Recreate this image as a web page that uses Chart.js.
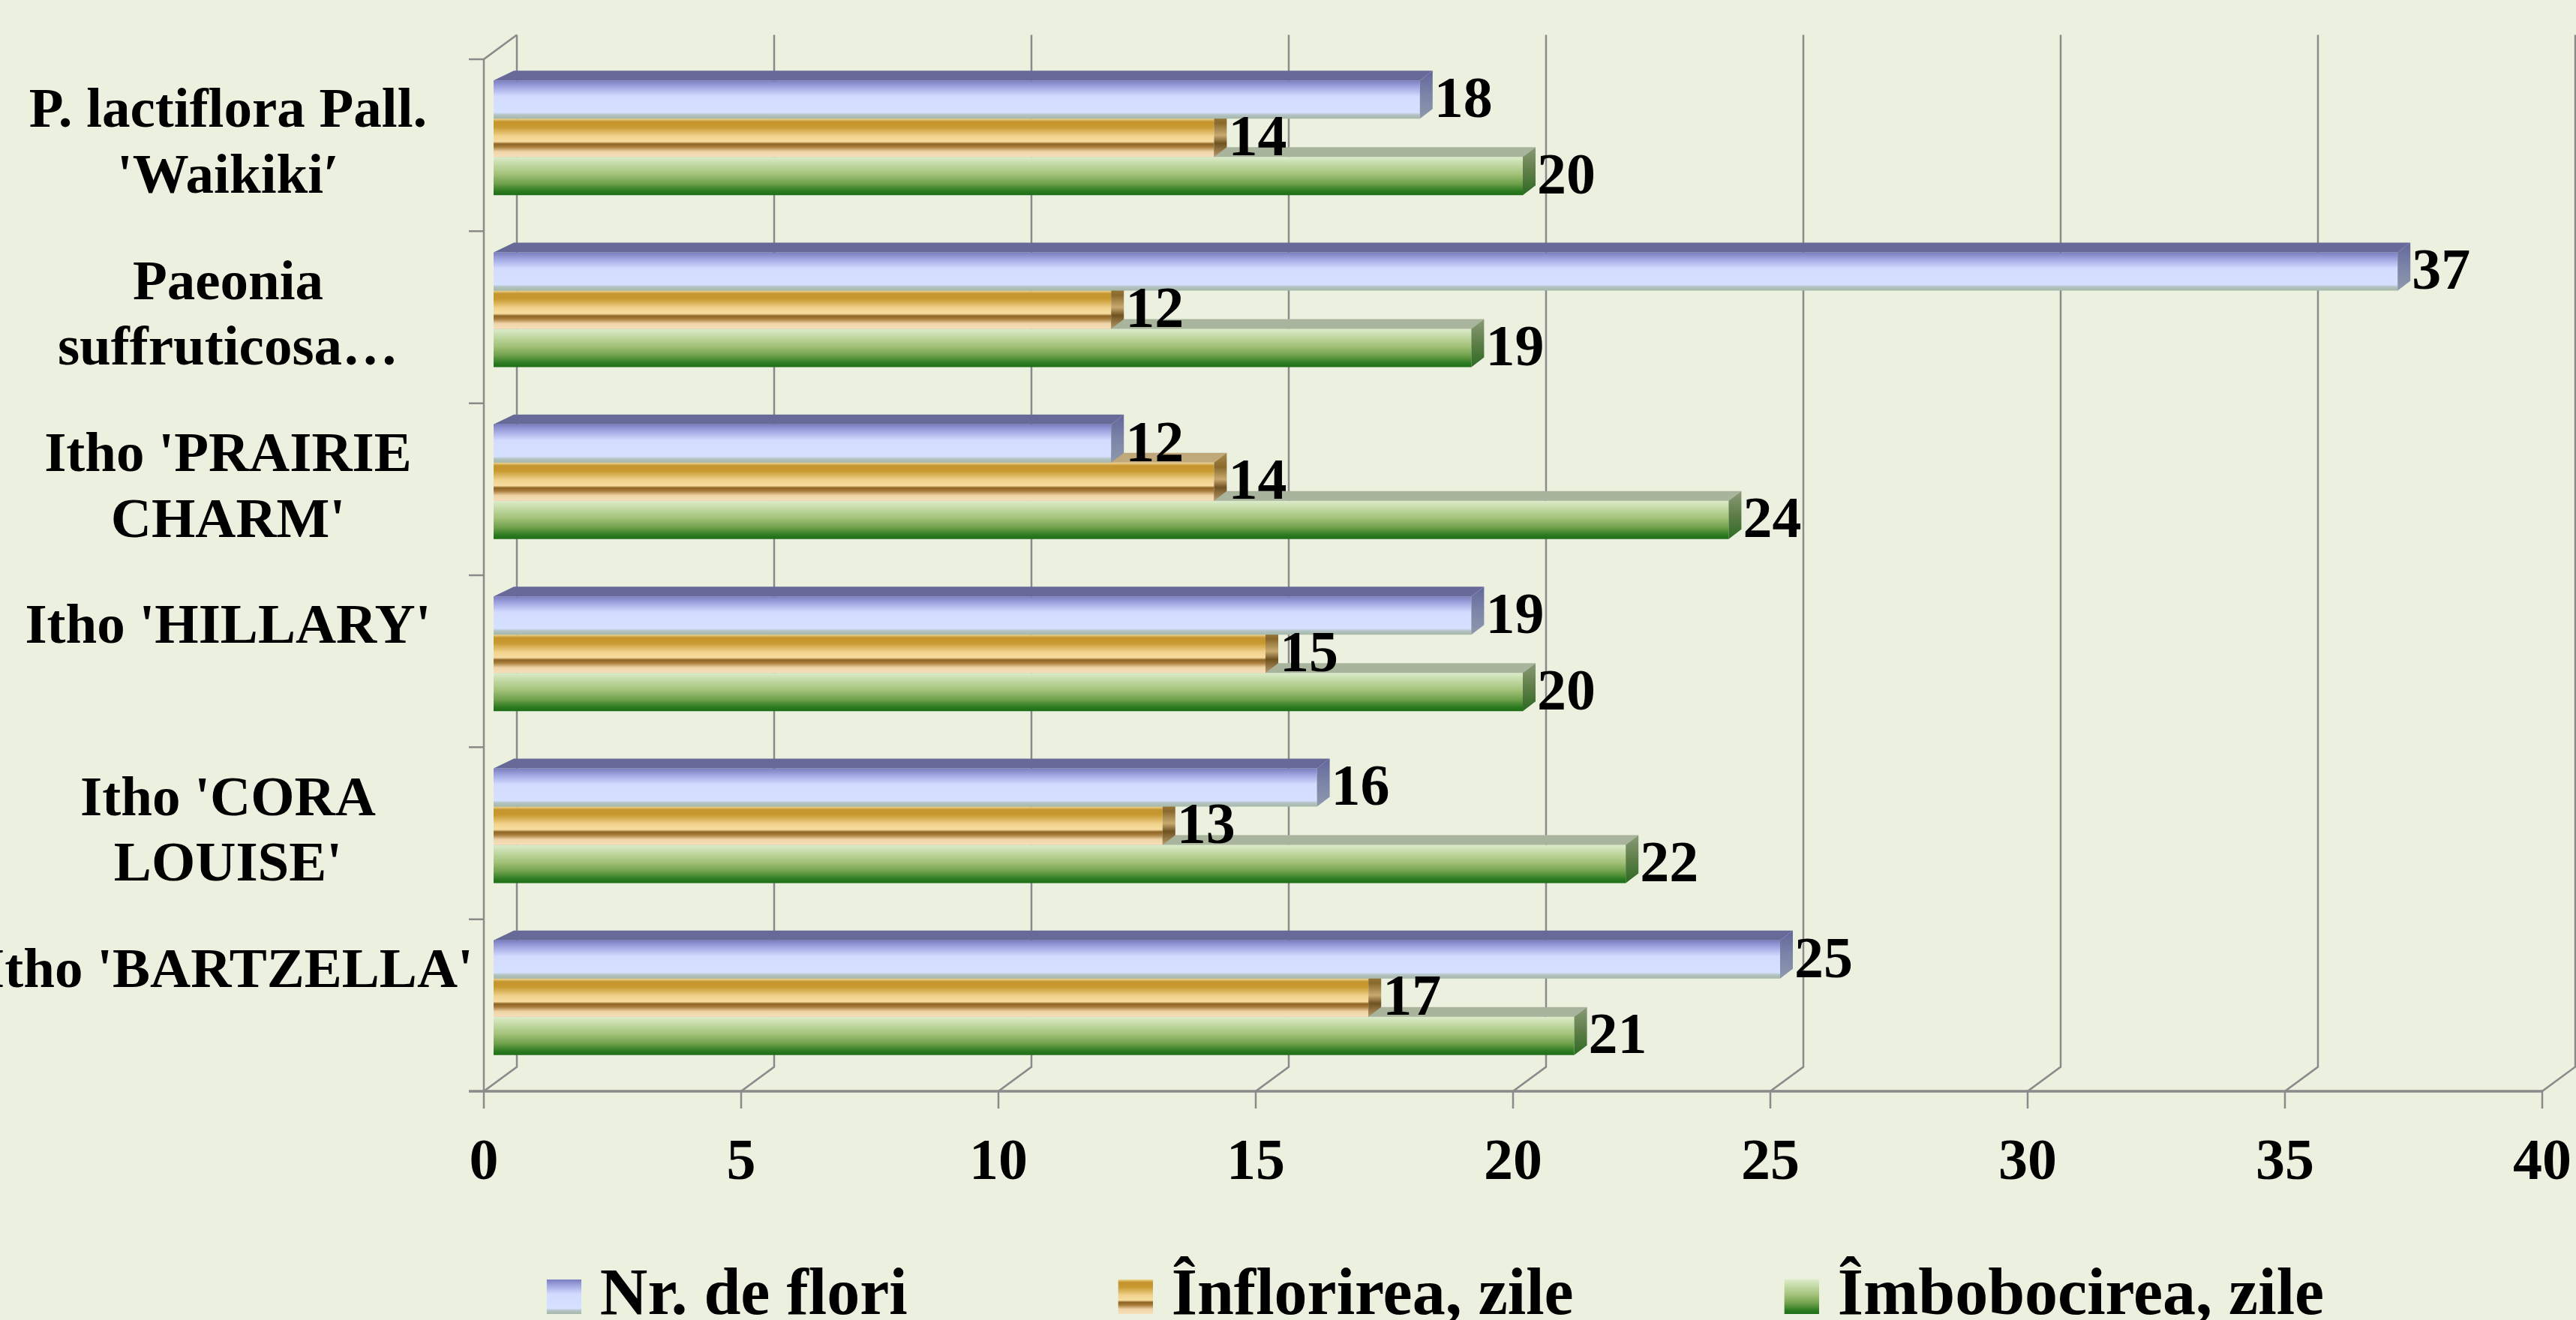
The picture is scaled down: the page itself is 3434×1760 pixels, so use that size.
<!DOCTYPE html>
<html>
<head>
<meta charset="utf-8">
<script src="https://cdn.jsdelivr.net/npm/chart.js@4.4.0/dist/chart.umd.min.js"></script>
<style>
  html, body { margin: 0; padding: 0; background: #ECF0DF; overflow: hidden; }
  #wrap { width: 3434px; height: 1760px; overflow: hidden; }
</style>
</head>
<body>
<div id="wrap"><canvas id="chart" width="3434" height="1790"></canvas></div>
<script>
// data (single-line labels keep an empty 2nd line like the original)
const categories = [
  ["P. lactiflora Pall.", "'Waikiki′"],
  ["Paeonia", "suffruticosa…"],
  ["Itho 'PRAIRIE", "CHARM'"],
  ["Itho 'HILLARY'", ""],
  ["Itho 'CORA", "LOUISE'"],
  ["Itho 'BARTZELLA'", ""]
];
const seriesNames = ['Nr. de flori', 'Înflorirea, zile', 'Îmbobocirea, zile'];
const nrFlori = [18, 37, 12, 19, 16, 25];
const inflorirea = [14, 12, 14, 15, 13, 17];
const imbobocirea = [20, 19, 24, 20, 22, 21];
const xTicks = [0, 5, 10, 15, 20, 25, 30, 35, 40];

// looks
const faceStops = [
  [[0, '#7A7EC0'], [0.2, '#A6ACE4'], [0.42, '#D3DCFF'], [0.84, '#D6E0FF'], [0.9, '#B4C4C4'], [1, '#A6B8A8']],
  [[0, '#F2D796'], [0.08, '#C4952E'], [0.22, '#C8992F'], [0.45, '#F0D28C'], [0.6, '#F8DDA0'], [0.66, '#8E6424'], [0.74, '#A87D3C'], [0.86, '#EED4A6'], [1, '#F7DFBC']],
  [[0, '#DCEBCB'], [0.2, '#C2D9A3'], [0.45, '#A3C27A'], [0.7, '#6FA04A'], [0.9, '#2A7A20'], [1, '#1F6E18']]
];
const topColors = ['#676A99', '#BFA87A', '#A8B49C'];
const sideStops = [
  [[0, '#62669A'], [0.5, '#7C84A8'], [1, '#8E98AC']],
  [[0, '#A88A4C'], [0.3, '#8A6A2C'], [0.55, '#C8AA70'], [0.72, '#6E5220'], [1, '#B89A6C']],
  [[0, '#8A9A78'], [0.5, '#5E7E48'], [1, '#2C6A22']]
];
const gridColor = '#8A8A8A';
const FONT = '"Liberation Serif", "Times New Roman", serif';
const LABEL_CENTER = 304; // where the category labels are centred

// 3d offsets (px)
const DEPTH_X = 17, DEPTH_Y = 13, LEFT_X = 27;
const FRONT = { dx: -13, dy: 10 };
const BACK = { dx: 31, dy: -22.5 };

Chart.defaults.font.family = FONT;

function vGradient(ctx, top, bottom, stops) {
  const g = ctx.createLinearGradient(0, top, 0, bottom);
  stops.forEach(s => g.addColorStop(s[0], s[1]));
  return g;
}

function legendSwatch(stops) {
  // wide transparent canvas, square sits on the right so the text stays close
  const c = document.createElement('canvas');
  c.width = 106; c.height = 46;
  const g = c.getContext('2d');
  g.fillStyle = vGradient(g, 0, 46, stops);
  g.fillRect(60, 0, 46, 46);
  return c;
}
const swatches = faceStops.map(legendSwatch);

// widest category line, to centre the mirrored labels
const mctx = document.createElement('canvas').getContext('2d');
mctx.font = 'bold 75px ' + FONT;
const widest = Math.max(...categories.flat().map(t => mctx.measureText(t).width));

const bars3d = {
  id: 'bars3d',
  beforeDatasetsDraw(chart) {
    const { ctx, chartArea: a, scales: { x, y } } = chart;
    const band = y.getPixelForValue(1) - y.getPixelForValue(0);
    const x0 = x.getPixelForValue(0);
    ctx.save();
    ctx.strokeStyle = gridColor;
    ctx.lineWidth = 2.5;
    ctx.beginPath();
    xTicks.forEach(v => {
      const px = x.getPixelForValue(v);
      ctx.moveTo(px + BACK.dx, a.top + BACK.dy);
      ctx.lineTo(px + BACK.dx, a.bottom + BACK.dy);
      ctx.lineTo(px + FRONT.dx, a.bottom + FRONT.dy);
      ctx.lineTo(px + FRONT.dx, a.bottom + FRONT.dy + 23);
    });
    // left wall
    ctx.moveTo(x0 + FRONT.dx, a.bottom + FRONT.dy);
    ctx.lineTo(x0 + FRONT.dx, a.top + FRONT.dy);
    ctx.lineTo(x0 + BACK.dx, a.top + BACK.dy);
    for (let k = 0; k < categories.length; k++) {
      const yk = a.top + k * band + FRONT.dy;
      ctx.moveTo(x0 + FRONT.dx - 20, yk);
      ctx.lineTo(x0 + FRONT.dx, yk);
    }
    ctx.stroke();
    // floor front edge
    ctx.lineWidth = 3.5;
    ctx.beginPath();
    ctx.moveTo(x0 + FRONT.dx - 20, a.bottom + FRONT.dy);
    ctx.lineTo(x.getPixelForValue(40) + FRONT.dx, a.bottom + FRONT.dy);
    ctx.stroke();
    ctx.restore();
  },
  beforeDatasetDraw(chart, args) {
    const ctx = chart.ctx;
    args.meta.data.forEach(el => {
      const { y, height } = el.getProps(['y', 'height'], true);
      el.options.backgroundColor = vGradient(ctx, y - height / 2, y + height / 2, faceStops[args.index]);
    });
  },
  afterDatasetDraw(chart, args) {
    const ctx = chart.ctx;
    const i = args.index;
    ctx.save();
    args.meta.data.forEach(el => {
      const { x, y, base, height } = el.getProps(['x', 'y', 'base', 'height'], true);
      const top = y - height / 2, bottom = y + height / 2;
      // top face
      ctx.fillStyle = topColors[i];
      ctx.beginPath();
      ctx.moveTo(base, top);
      ctx.lineTo(base + LEFT_X, top - DEPTH_Y);
      ctx.lineTo(x + DEPTH_X, top - DEPTH_Y);
      ctx.lineTo(x, top);
      ctx.closePath();
      ctx.fill();
      // right face
      ctx.fillStyle = vGradient(ctx, top - DEPTH_Y, bottom, sideStops[i]);
      ctx.beginPath();
      ctx.moveTo(x, top);
      ctx.lineTo(x + DEPTH_X, top - DEPTH_Y);
      ctx.lineTo(x + DEPTH_X, bottom - DEPTH_Y);
      ctx.lineTo(x, bottom);
      ctx.closePath();
      ctx.fill();
    });
    ctx.restore();
  },
  afterDatasetsDraw(chart) {
    const ctx = chart.ctx;
    ctx.save();
    ctx.font = 'bold 78px ' + FONT;
    ctx.fillStyle = '#000';
    ctx.textAlign = 'left';
    ctx.textBaseline = 'middle';
    chart.data.datasets.forEach((ds, d) => {
      chart.getDatasetMeta(d).data.forEach((el, j) => {
        const { x, y } = el.getProps(['x', 'y'], true);
        ctx.fillText(String(ds.data[j]), x + 19, y + 3);
      });
    });
    ctx.restore();
  }
};

new Chart(document.getElementById('chart'), {
  type: 'bar',
  data: {
    labels: categories,
    datasets: [
      { label: seriesNames[0], data: nrFlori, backgroundColor: () => topColors[0] },
      { label: seriesNames[1], data: inflorirea, backgroundColor: () => topColors[1] },
      { label: seriesNames[2], data: imbobocirea, backgroundColor: () => topColors[2] }
    ]
  },
  options: {
    indexAxis: 'y',
    responsive: false,
    animation: false,
    categoryPercentage: 0.667,
    barPercentage: 1,
    borderWidth: 0,
    layout: { padding: { left: 384, right: 32, top: 69, bottom: 7 } },
    scales: {
      x: {
        min: 0,
        max: 40,
        grid: { display: false, drawTicks: false },
        border: { display: false },
        ticks: {
          stepSize: 5,
          maxRotation: 0,
          mirror: true,   // keeps the labels from being clipped to the 0-height axis box
          padding: -154,
          labelOffset: -13,
          color: '#000',
          font: { size: 78, weight: 'bold', lineHeight: 1.2 }
        },
        afterFit(s) { s.height = 0; s.paddingLeft = 0; s.paddingRight = 0; }
      },
      y: {
        grid: { display: false, drawTicks: false },
        border: { display: false },
        ticks: {
          mirror: true,
          crossAlign: 'center',
          padding: LABEL_CENTER - 658 - widest / 2,
          labelOffset: 10,
          autoSkip: false,
          color: '#000',
          font: { size: 75, weight: 'bold', lineHeight: 1.17 }
        },
        afterFit(s) { s.width = 274; s.paddingTop = 0; s.paddingBottom = 0; }
      }
    },
    plugins: {
      tooltip: { enabled: false },
      legend: {
        position: 'bottom',
        labels: {
          usePointStyle: true,
          boxWidth: 68,
          boxHeight: 46,
          padding: 240,
          color: '#000',
          font: { size: 88, weight: 'bold' },
          generateLabels(chart) {
            const items = Chart.defaults.plugins.legend.labels.generateLabels(chart);
            items.forEach((it, k) => { it.pointStyle = swatches[k]; });
            return items;
          }
        }
      }
    }
  },
  plugins: [bars3d]
});
</script>
</body>
</html>
